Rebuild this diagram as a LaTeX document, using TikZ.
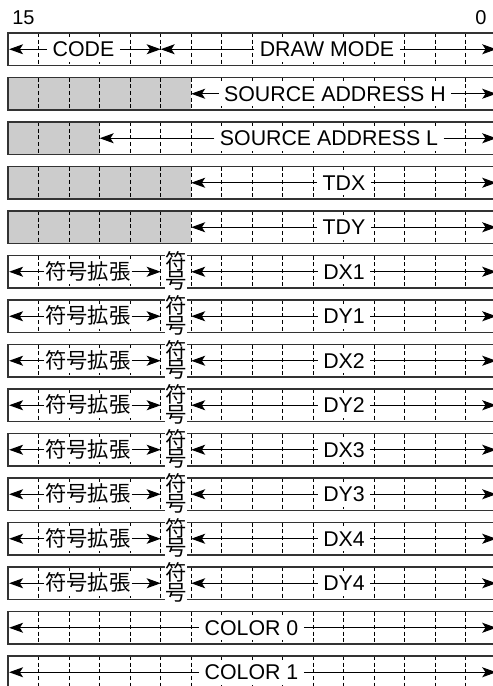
\documentclass[tikz,border=0pt]{standalone}
\usepackage{fontspec}
\setmainfont{Liberation Sans}
\newfontfamily\cjk{Noto Sans CJK JP}
\usetikzlibrary{arrows.meta}
\newcommand\lblfont{\fontsize{16pt}{18pt}\selectfont}
\newcommand\hdrfont{\fontsize{15pt}{17pt}\selectfont}
\tikzset{
 graycell/.style={fill=black!20},
 bitline/.style={draw=black, line width=0.7pt, dash pattern=on 3pt off 2pt},
 rowborder/.style={draw=black!80, line width=1.1pt},
 lbl/.style={fill=white, inner xsep=4pt, inner ysep=3.5pt, text height=11.4pt, text depth=0pt, font=\lblfont},
 cjklbl/.style={lbl, inner xsep=0.5pt, font=\cjk\lblfont},
 stack/.style={fill=white, inner sep=0.5pt, align=center, font=\cjk\fontsize{16pt}{14.6pt}\selectfont},
 arr/.style={draw=black, line width=0.8pt, -{Stealth[length=10.5pt,width=7.5pt,inset=2.5pt]}},
 hdr/.style={font=\hdrfont, inner sep=0pt},
}
% #1 node name, #2 row, #3 left column, #4 right column, #5 text x, #6 style, #7 label
\newcommand\fieldarrow[7]{%
 \pgfmathsetmacro\yc{33+44.5*(#2-1)+16.25}%
 \pgfmathsetmacro\xl{8.2+30.5*#3+(#3==0 ? 0.9 : 0)}%
 \pgfmathsetmacro\xr{8.2+30.5*#4}%
 \coordinate (#1-l) at (\xl,\yc);
 \coordinate (#1-r) at (\xr,\yc);
 \node[#6] (#1) at (#5,\yc) {#7};
 \draw[arr] (#1) -- (#1-l);
 \draw[arr] (#1) -- (#1-r);
}
\begin{document}
\begin{tikzpicture}[x=0.75pt,y=-0.75pt]
\useasboundingbox (0,0) rectangle (493,686);
\clip (0,0) rectangle (493,686);
% header
\node[hdr,anchor=base] (b15) at (23.5,24) {15};
\node[hdr,anchor=base] (b0) at (481,24) {0};
% row frames, grey cells and bit lines
\foreach \r/\g in {1/0,2/6,3/3,4/6,5/6,6/0,7/0,8/0,9/0,10/0,11/0,12/0,13/0,14/0,15/0}{
 \pgfmathsetmacro\t{33+44.5*(\r-1)}
 \pgfmathsetmacro\b{\t+32.5}
 \ifnum\g>0 \fill[graycell] (8.2,\t) rectangle ({8.2+30.5*\g},\b); \fi
 \foreach \i in {1,...,15} \draw[bitline] ({8.2+30.5*\i},\t) -- ({8.2+30.5*\i},\b);
 \draw[rowborder] (496.2,\t) -- (8.2,\t) -- (8.2,\b) -- (496.2,\b) -- cycle;
}
% row 1
\fieldarrow{code}{1}{0}{5}{83.5}{lbl}{CODE}
\fieldarrow{mode}{1}{5}{16}{327}{lbl}{DRAW MODE}
% rows 2-5
\fieldarrow{srch}{2}{6}{16}{335}{lbl}{SOURCE ADDRESS H}
\fieldarrow{srcl}{3}{3}{16}{329}{lbl}{SOURCE ADDRESS L}
\fieldarrow{tdx}{4}{6}{16}{344}{lbl}{TDX}
\fieldarrow{tdy}{5}{6}{16}{344}{lbl}{TDY}
% rows 6-13
\foreach \r/\n in {6/DX1,7/DY1,8/DX2,9/DY2,10/DX3,11/DY3,12/DX4,13/DY4}{
 \fieldarrow{ext\r}{\r}{0}{5}{88}{cjklbl}{符号拡張}
 \fieldarrow{d\r}{\r}{6}{16}{344}{lbl}{\n}
 \pgfmathsetmacro\ys{33+44.5*(\r-1)+16.25-1}
 \node[stack] (sg\r) at (175.95,\ys) {符\\号};
}
% rows 14-15
\fieldarrow{col0}{14}{0}{16}{251.5}{lbl}{COLOR 0}
\fieldarrow{col1}{15}{0}{16}{251.5}{lbl}{COLOR 1}
\end{tikzpicture}
\end{document}
